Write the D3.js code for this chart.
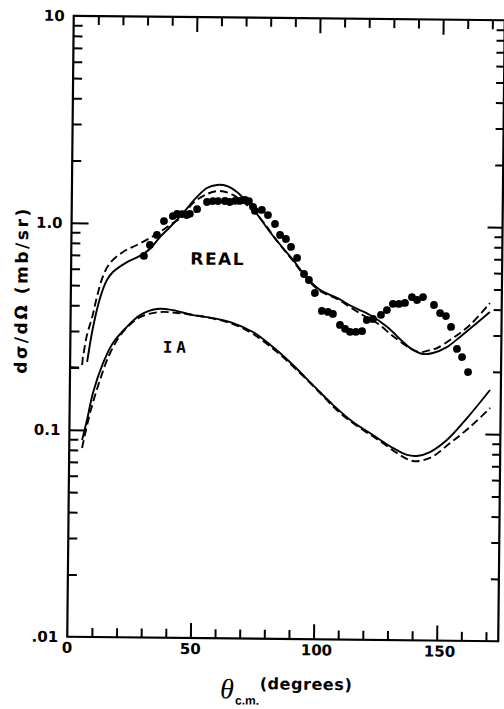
<!DOCTYPE html>
<html><head><meta charset="utf-8">
<script src="https://cdn.jsdelivr.net/npm/d3@7"></script>
<style>html,body{margin:0;padding:0;background:#fff;}svg{display:block;}</style>
</head><body>
<svg id="chart" width="504" height="709"></svg>
<script>
// ---- data (theta c.m. in degrees, dsigma/dOmega in mb/sr) ----
const dataDeg = [29.5,31.9,34.7,37.5,41.1,42.8,44.8,46.8,48.0,50.9,54.9,57.3,59.4,62.2,64.2,66.3,68.3,70.3,71.9,73.6,74.4,77.2,79.7,82.6,84.7,87.1,89.2,91.7,94.6,96.6,99.1,102.0,104.5,106.5,109.4,111.5,113.5,115.9,118.4,120.3,122.8,126.0,128.4,130.8,133.3,135.7,138.5,140.6,143.0,147.5,150.0,152.4,154.5,157.0,159.1,161.6];
const dataVal = [0.697,0.788,0.882,1.03,1.09,1.116,1.116,1.105,1.12,1.18,1.28,1.294,1.295,1.297,1.283,1.30,1.30,1.315,1.30,1.218,1.165,1.179,1.115,1.01,0.894,0.856,0.784,0.694,0.581,0.544,0.471,0.386,0.382,0.374,0.331,0.317,0.307,0.307,0.310,0.351,0.355,0.372,0.393,0.421,0.421,0.426,0.455,0.441,0.456,0.418,0.382,0.370,0.328,0.257,0.235,0.199];

const realSolidDeg = [6.9,9.1,11.9,14.6,17.0,22.7,27.9,31.9,35.95,40.0,45.2,50.8,54.8,58.9,62.9,67.0,71.1,75.2,80.6,85.9,90.1,95.8,101.1,108.1,114.6,121.6,128.5,135.1,139.1,143.2,147.3,152.9,158.2,165.0,170.2];
const realSolidVal = [0.213,0.311,0.435,0.531,0.581,0.650,0.697,0.754,0.862,0.965,1.129,1.352,1.496,1.549,1.533,1.435,1.286,1.126,0.923,0.774,0.678,0.556,0.488,0.447,0.405,0.371,0.326,0.276,0.253,0.242,0.245,0.262,0.294,0.344,0.389];

const realDashDeg = [0.4,4.4,5.2,6.7,8.7,10.6,13.0,15.8,21.0,26.6,31.9,35.9,40.0,45.2,49.2,54.9,60.1,65.4,71.1,76.5,83.5,90.1,95.8,101.1,108.1,114.6,119.9,124.4,131.0,137.9,142.0,146.0,148.9,155.3,162.2,170.2];
const realDashVal = [0.201,0.202,0.225,0.287,0.348,0.439,0.555,0.642,0.727,0.787,0.852,0.912,0.987,1.092,1.263,1.399,1.448,1.388,1.244,1.077,0.836,0.671,0.550,0.482,0.442,0.396,0.363,0.340,0.294,0.258,0.247,0.253,0.259,0.290,0.336,0.430];

const iaSolidDeg = [5.2,7.1,9.4,13.4,17.3,22.9,28.2,35.0,41.5,49.7,57.8,66.0,74.1,82.3,90.5,98.7,106.9,115.1,123.3,131.5,137.2,141.2,146.5,153.3,161.4,170.6];
const iaSolidVal = [0.0894,0.1116,0.151,0.211,0.264,0.316,0.361,0.387,0.383,0.363,0.352,0.334,0.303,0.257,0.211,0.169,0.136,0.1126,0.0977,0.0847,0.0786,0.0778,0.0814,0.0932,0.1193,0.1634];

const iaDashDeg = [5.2,8.3,12.2,16.2,21.3,28.2,36.3,43.2,52.5,66.0,74.1,84.0,93.4,101.6,109.8,118.0,126.1,134.3,139.6,146.5,154.6,162.6,170.7];
const iaDashVal = [0.0818,0.1207,0.1746,0.236,0.2985,0.353,0.3745,0.371,0.36,0.3304,0.2965,0.243,0.193,0.155,0.1243,0.1055,0.0915,0.0785,0.0735,0.0762,0.0901,0.108,0.1337];

const xTickValues = [10,20,30,40,50,60,70,80,90,100,110,120,130,140,150,160,170];
const xMajorTicks = [50,100,150];
const xTickLabels = ["0","50","100","150"];
const xLabelValues = [0,50,100,150];
const yLabelValues = [10,1,0.1,0.01];
const yTickLabels = ["10","1.0","0.1",".01"];

// ---- layout ----
const L = 70.5, R = 501.5, T = 18, B = 639;
const svg = d3.select("#chart");
svg.append("rect").attr("width",504).attr("height",709).attr("fill","#fff");
const g = svg.append("g").attr("transform","rotate(0.6,285,327)");

const x = d3.scaleLinear().domain([0,175]).range([L,R]);
const y = d3.scaleLog().domain([0.01,10]).range([B,T]);
const isDecade = v => Math.abs(Math.log10(v) - Math.round(Math.log10(v))) < 1e-9;

// frame
g.append("rect").attr("x",L).attr("y",T).attr("width",R-L).attr("height",B-T)
  .attr("fill","none").attr("stroke","#000").attr("stroke-width",2.2);

function styleAxis(sel){
  sel.select(".domain").remove();
  sel.selectAll(".tick line").attr("stroke","#000").attr("stroke-width",2);
}
// bottom axis (ticks inward)
const axB = g.append("g").attr("transform",`translate(0,${B})`)
  .call(d3.axisTop(x).tickValues(xTickValues).tickSize(9).tickSizeOuter(0).tickFormat(""));
styleAxis(axB);
axB.selectAll(".tick line").attr("y2", d => xMajorTicks.includes(d) ? -15 : -9);
// top axis
const axT = g.append("g").attr("transform",`translate(0,${T})`)
  .call(d3.axisBottom(x).tickValues(xTickValues).tickSize(9).tickSizeOuter(0).tickFormat(""));
styleAxis(axT);
axT.selectAll(".tick line").attr("y2", d => xMajorTicks.includes(d) ? 15 : 9);
// left axis
const yT = y.ticks().filter(v => v > 0.0100001 && v < 9.9999);
const axL = g.append("g").attr("transform",`translate(${L},0)`)
  .call(d3.axisRight(y).tickValues(yT).tickSize(9).tickSizeOuter(0).tickFormat(""));
styleAxis(axL);
axL.selectAll(".tick line").attr("x2", d => isDecade(d) ? 17 : 9);
// right axis
const axR = g.append("g").attr("transform",`translate(${R},0)`)
  .call(d3.axisLeft(y).tickValues(yT).tickSize(8).tickSizeOuter(0).tickFormat(""));
styleAxis(axR);
axR.selectAll(".tick line").attr("x2", d => isDecade(d) ? -15 : -8);

// tick labels
const tickFont = "'DejaVu Sans', sans-serif";
g.selectAll("text.xl").data(xLabelValues).join("text").attr("class","xl")
  .attr("x", d => x(d) + (d >= 100 ? 3 : 0)).attr("y", B + 16)
  .attr("text-anchor","middle").attr("font-family",tickFont).attr("font-weight","bold")
  .attr("font-size",15).text((d,i) => xTickLabels[i]);
g.selectAll("text.yl").data(yLabelValues).join("text").attr("class","yl")
  .attr("x", L - 9).attr("y", d => y(d)).attr("dy","0.36em")
  .attr("text-anchor","end").attr("font-family",tickFont).attr("font-weight","bold")
  .attr("font-size",15).text((d,i) => yTickLabels[i]);

// axis titles
g.append("text").attr("transform","translate(27,294) rotate(-90)")
  .attr("text-anchor","middle").attr("font-family",tickFont).attr("font-weight","bold")
  .attr("font-size",17).attr("textLength",165).attr("lengthAdjust","spacing")
  .text("d\u03C3/d\u03A9  (mb/sr)");
g.append("text").attr("x",224).attr("y",699).attr("font-family","'Liberation Serif', serif")
  .attr("font-style","italic").attr("font-size",28).text("\u03B8");
g.append("text").attr("x",239).attr("y",705).attr("font-family","'Liberation Sans', sans-serif")
  .attr("font-weight","bold").attr("font-size",12).text("c.m.");
g.append("text").attr("x",263.5).attr("y",689.5).attr("font-family",tickFont)
  .attr("font-weight","bold").attr("font-size",16).attr("textLength",92).attr("lengthAdjust","spacing")
  .text("(degrees)");

// curve labels
g.append("text").attr("x",217).attr("y",265.5).attr("text-anchor","middle")
  .attr("font-family",tickFont).attr("font-weight","bold").attr("font-size",17)
  .attr("letter-spacing",1.5).text("REAL");
g.append("text").attr("x",163).attr("y",354).attr("font-family","'DejaVu Sans Mono', monospace")
  .attr("font-weight","bold").attr("font-size",16).attr("letter-spacing",4).text("IA");

// curves
const line = d3.line().x(d => x(d[0])).y(d => y(d[1])).curve(d3.curveCatmullRom.alpha(0.5));
const zip = (a,b) => a.map((v,i) => [v,b[i]]);
const curves = [
  {deg: realSolidDeg, val: realSolidVal, dash: null},
  {deg: realDashDeg, val: realDashVal, dash: "8,4"},
  {deg: iaSolidDeg, val: iaSolidVal, dash: null},
  {deg: iaDashDeg, val: iaDashVal, dash: "8,4"}
];
curves.forEach(c => {
  g.append("path").attr("d", line(zip(c.deg,c.val))).attr("fill","none")
    .attr("stroke","#000").attr("stroke-width",1.9)
    .attr("stroke-dasharray", c.dash);
});

// data points
g.selectAll("circle.pt").data(zip(dataDeg,dataVal)).join("circle").attr("class","pt")
  .attr("cx", d => x(d[0])).attr("cy", d => y(d[1])).attr("r",3.9).attr("fill","#000");
</script>
</body></html>
